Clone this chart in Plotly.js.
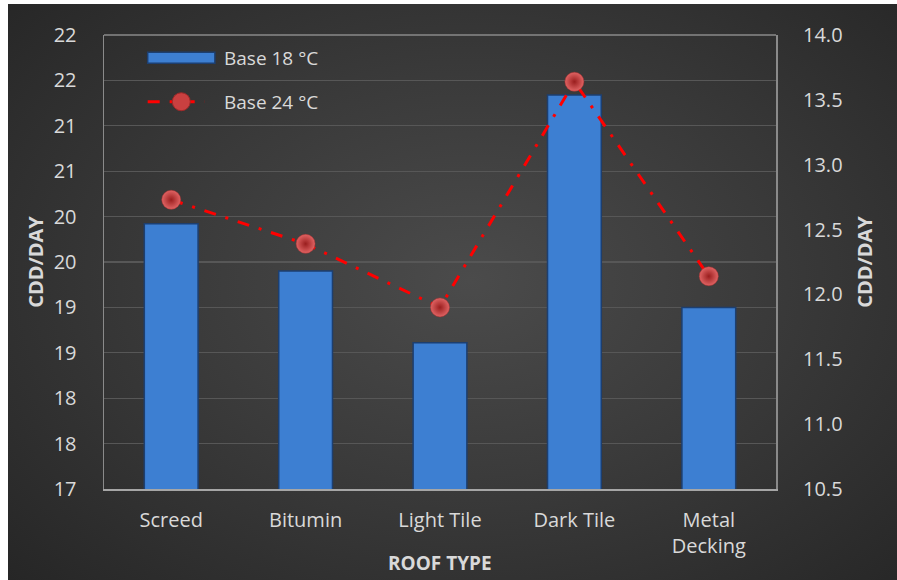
<!DOCTYPE html>
<html>
<head>
<meta charset="utf-8">
<script src="https://cdn.plot.ly/plotly-3.0.1.min.js"></script>
<style>
  html, body { margin: 0; padding: 0; background: #ffffff; }
  #chart {
    position: absolute; left: 8px; top: 4px; width: 889px; height: 576px;
    background: radial-gradient(ellipse 75% 80% at 52% 48%, #4b4b4b 0%, #3a3a3a 45%, #242424 100%);
  }
</style>
</head>
<body>
<div id="chart"></div>
<script>
// ---- data ----
const categories = ['Screed', 'Bitumin', 'Light Tile', 'Dark Tile', 'Metal<br>Decking'];
const base18 = [19.92, 19.40, 18.61, 21.34, 19.00];
const base24 = [12.73, 12.39, 11.90, 13.64, 12.14];
const leftTickVals = [17, 17.5, 18, 18.5, 19, 19.5, 20, 20.5, 21, 21.5, 22];
const leftTickText = ['17', '18', '18', '19', '19', '20', '20', '21', '21', '22', '22'];
const seriesNames = ['Base 18 °C', 'Base 24 °C'];
const xTitle = 'ROOF TYPE';
const yTitle = 'CDD/DAY';

const FONT = 'Open Sans, Liberation Sans, sans-serif';
const TXT = '#d9d9d9';

const traces = [
  {
    type: 'bar', x: categories, y: base18, name: seriesNames[0], yaxis: 'y',
    width: 0.4,
    marker: { color: '#3d7fd2', line: { color: '#1d3f70', width: 1.5 } },
    showlegend: false
  },
  {
    type: 'scatter', mode: 'lines+markers', x: categories, y: base24, name: seriesNames[1], yaxis: 'y2',
    line: { color: '#ff0000', width: 3, dash: '12px,10px,3px,10px' },
    marker: { size: 19, color: '#e06464', gradient: { type: 'radial', color: '#9a1e1e' },
              line: { color: '#b03030', width: 0.5 } },
    showlegend: false
  }
];

const layout = {
  width: 889, height: 576,
  paper_bgcolor: 'rgba(0,0,0,0)', plot_bgcolor: 'rgba(0,0,0,0)',
  margin: { l: 96, r: 121, t: 31, b: 91 },
  font: { family: FONT, color: TXT, size: 20 },
  xaxis: {
    type: 'category',
    showgrid: false, zeroline: false,
    showline: true, linecolor: '#a6a6a6', linewidth: 2,
    ticks: 'outside', ticklen: 12, tickcolor: 'rgba(0,0,0,0)',
    tickfont: { family: FONT, size: 20, color: TXT }
  },
  yaxis: {
    range: [17, 22], tickvals: leftTickVals, ticktext: leftTickText,
    showgrid: true, gridcolor: '#575757', gridwidth: 1.2, zeroline: false,
    showline: true, linecolor: '#8a8a8a', linewidth: 1.5, mirror: true,
    ticks: 'outside', ticklen: 22, tickcolor: 'rgba(0,0,0,0)',
    tickfont: { family: FONT, size: 20, color: TXT },
    title: { text: '<b>' + yTitle + '</b>', font: { family: FONT, size: 20, color: TXT }, standoff: 4 }
  },
  yaxis2: {
    overlaying: 'y', side: 'right',
    range: [10.5, 14.0], dtick: 0.5, tick0: 10.5, tickformat: '.1f',
    showgrid: false, zeroline: false, showline: false,
    ticks: 'outside', ticklen: 22, tickcolor: 'rgba(0,0,0,0)',
    tickfont: { family: FONT, size: 20, color: TXT },
    title: { text: '<b>' + yTitle + '</b>', font: { family: FONT, size: 20, color: TXT }, standoff: 16 }
  },
  shapes: [
    { type: 'line', xref: 'paper', yref: 'paper', x0: 0, x1: 1, y0: 1, y1: 1,
      line: { color: '#8a8a8a', width: 1.5 } },
    // legend symbols
    { type: 'rect', xref: 'paper', yref: 'paper', x0: 0.065, x1: 0.165, y0: 0.938, y1: 0.962,
      fillcolor: '#3d7fd2', line: { color: '#1d3f70', width: 1.5 } },
    { type: 'line', xref: 'paper', yref: 'paper', x0: 0.065, x1: 0.15, y0: 0.853, y1: 0.853,
      line: { color: '#ff0000', width: 3, dash: '12px,10px,3px,10px' } },
    { type: 'circle', xref: 'paper', yref: 'paper', xsizemode: 'pixel', ysizemode: 'pixel',
      xanchor: 0.115, yanchor: 0.853, x0: -9, x1: 9, y0: -9, y1: 9,
      fillcolor: '#c94040', line: { color: '#a02828', width: 1 } }
  ],
  annotations: [
    { xref: 'paper', yref: 'paper', x: 0.175, y: 0.950, xanchor: 'left', yanchor: 'middle',
      text: seriesNames[0], showarrow: false, font: { family: FONT, size: 19, color: TXT } },
    { xref: 'paper', yref: 'paper', x: 0.175, y: 0.853, xanchor: 'left', yanchor: 'middle',
      text: seriesNames[1], showarrow: false, font: { family: FONT, size: 19, color: TXT } },
    { xref: 'paper', yref: 'paper', x: 0.5, y: -0.163, xanchor: 'center', yanchor: 'middle',
      text: '<b>' + xTitle + '</b>', showarrow: false, font: { family: FONT, size: 19, color: TXT } }
  ]
};

Plotly.newPlot('chart', traces, layout, { displayModeBar: false, staticPlot: true });
</script>
</body>
</html>
